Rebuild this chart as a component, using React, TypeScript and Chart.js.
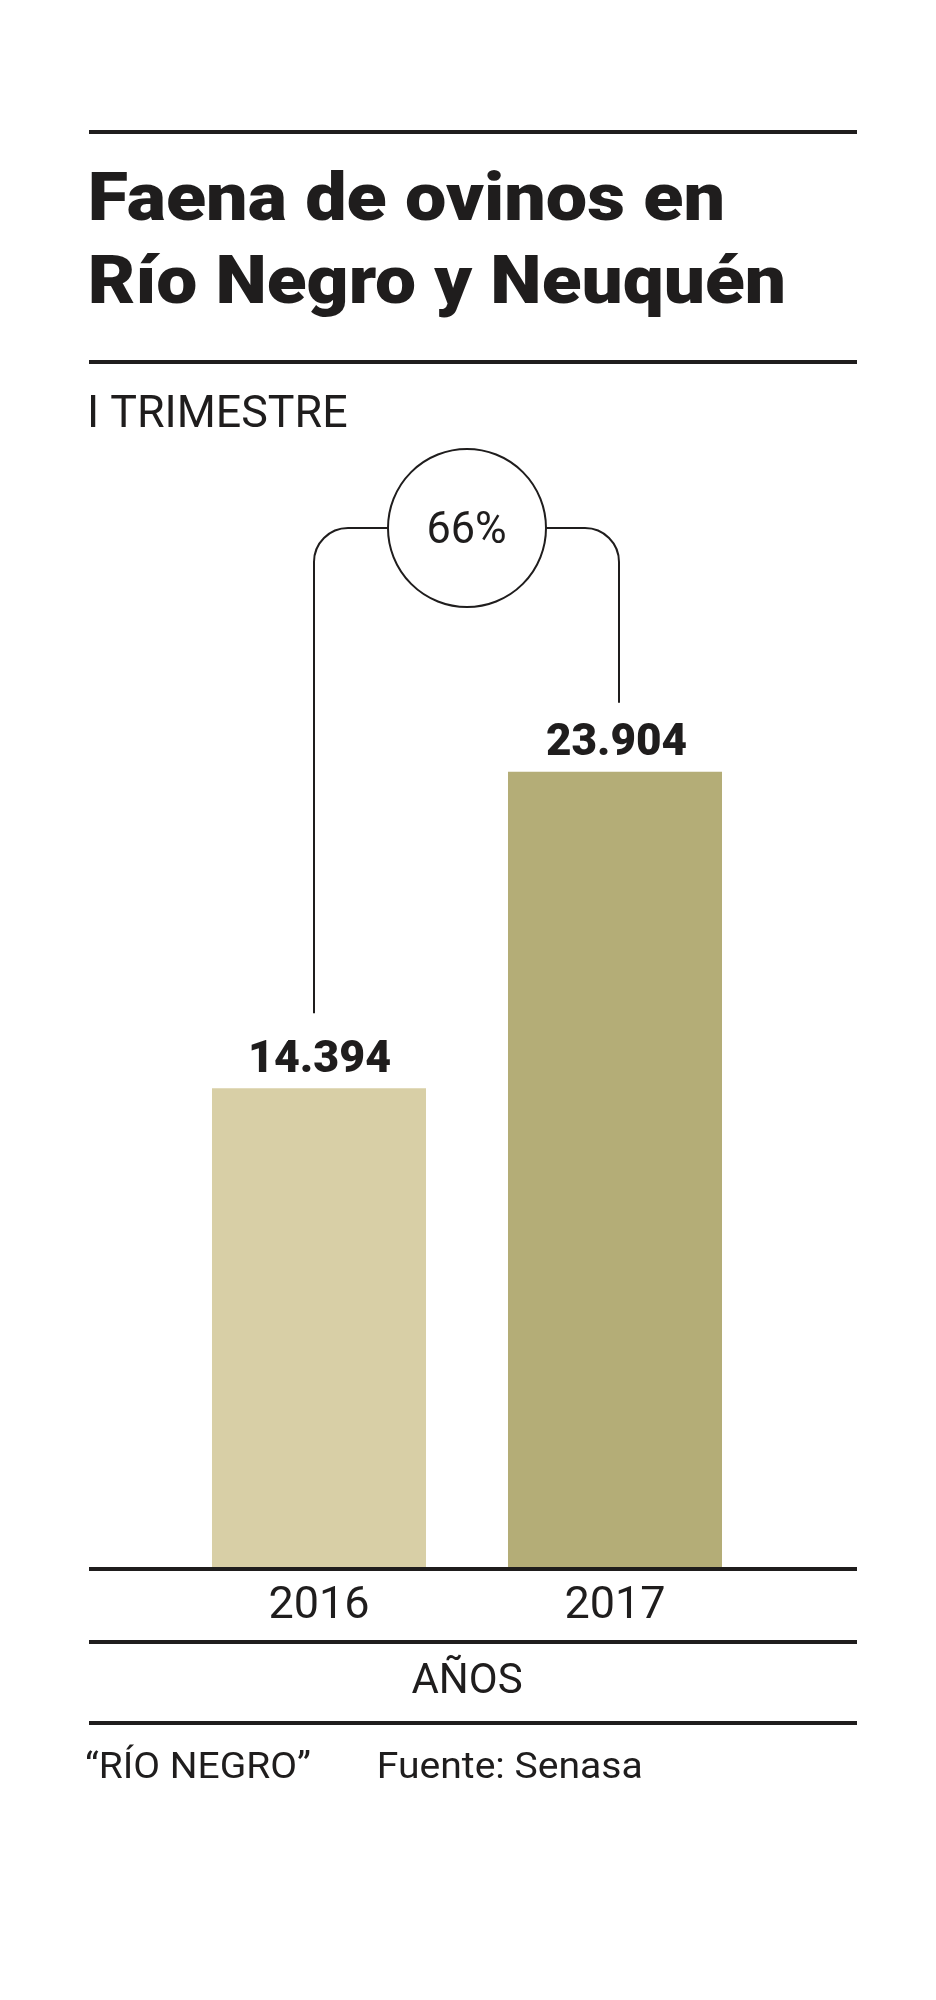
import React, { useEffect, useRef } from "react";
import { Chart, registerables } from "chart.js";

Chart.register(...registerables);

// ---- data ----
const categories = ["2016", "2017"];
const values = [14394, 23904];
const valueLabels = ["14.394", "23.904"];
const barColors = ["#d8cfa6", "#b4ad77"];
const changeLabel = "66%";
const titleLines = ["Faena de ovinos en", "Río Negro y Neuquén"];
const subtitle = "I TRIMESTRE";
const axisTitle = "AÑOS";
const footerLeft = "\u201CRÍO NEGRO\u201D";
const footerRight = "Fuente: Senasa";
const yMax = 30000;

const INK = "#1f1d1d";
const FONT = "Roboto, 'Liberation Sans', Arial, sans-serif";

function drawInk(
  ctx: CanvasRenderingContext2D,
  text: string,
  font: string,
  inkLeft: number,
  baseline: number,
  inkWidth: number
) {
  ctx.save();
  ctx.font = font;
  ctx.textAlign = "left";
  ctx.textBaseline = "alphabetic";
  const m = ctx.measureText(text);
  const w = m.actualBoundingBoxLeft + m.actualBoundingBoxRight;
  const sx = w > 0 ? inkWidth / w : 1;
  ctx.translate(inkLeft, baseline);
  ctx.scale(sx, 1);
  ctx.fillText(text, m.actualBoundingBoxLeft, 0);
  ctx.restore();
}

const decorPlugin = {
  id: "decor",
  beforeDraw(chart: any) {
    const ctx: CanvasRenderingContext2D = chart.ctx;
    ctx.save();
    ctx.fillStyle = "#ffffff";
    ctx.fillRect(0, 0, chart.width, chart.height);
    ctx.fillStyle = INK;
    // horizontal rules
    const x0 = 89;
    const w = 768;
    [130, 360, 1640, 1721].forEach((y) => ctx.fillRect(x0, y, w, 4));
    // baseline rule
    ctx.fillRect(x0, chart.chartArea.bottom, w, 4);
    // title
    drawInk(ctx, titleLines[0], `900 67px ${FONT}`, 91, 220, 631);
    drawInk(ctx, titleLines[1], `900 67px ${FONT}`, 91, 303, 692);
    drawInk(ctx, subtitle, `400 45px ${FONT}`, 91, 427, 256);
    // footer
    drawInk(ctx, footerLeft, `400 36px ${FONT}`, 86, 1778, 224);
    drawInk(ctx, footerRight, `400 36px ${FONT}`, 379, 1778, 262);
    ctx.restore();
  },
  afterDatasetsDraw(chart: any) {
    const ctx: CanvasRenderingContext2D = chart.ctx;
    const meta = chart.getDatasetMeta(0);
    const b0 = meta.data[0];
    const b1 = meta.data[1];
    ctx.save();
    ctx.fillStyle = INK;
    // value labels
    meta.data.forEach((bar: any, i: number) => {
      const base = bar.y - (i === 0 ? 16 : 17);
      drawInk(ctx, valueLabels[i], `900 45px ${FONT}`, bar.x - 68, base, 139);
    });
    // bracket + circle
    const cx = (b0.x + b1.x) / 2;
    const cy = 528;
    const r = 79;
    const lx = b0.x - 5;
    const rx = b1.x + 4;
    const rad = 34;
    ctx.strokeStyle = INK;
    ctx.lineWidth = 2;
    ctx.beginPath();
    ctx.moveTo(lx, b0.y - 75);
    ctx.lineTo(lx, cy + rad);
    ctx.arcTo(lx, cy, lx + rad, cy, rad);
    ctx.lineTo(cx - r, cy);
    ctx.stroke();
    ctx.beginPath();
    ctx.moveTo(cx + r, cy);
    ctx.lineTo(rx - rad, cy);
    ctx.arcTo(rx, cy, rx, cy + rad, rad);
    ctx.lineTo(rx, b1.y - 69);
    ctx.stroke();
    ctx.beginPath();
    ctx.arc(cx, cy, r, 0, Math.PI * 2);
    ctx.stroke();
    drawInk(ctx, changeLabel, `400 44px ${FONT}`, cx - 38.5, 543, 77);
    ctx.restore();
  },
};

export default function App() {
  const ref = useRef<HTMLCanvasElement | null>(null);
  useEffect(() => {
    if (!ref.current) return;
    const chart = new Chart(ref.current, {
      type: "bar",
      data: {
        labels: categories,
        datasets: [
          {
            data: values,
            backgroundColor: barColors,
            borderWidth: 0,
            categoryPercentage: 1,
            barPercentage: 0.723,
          },
        ],
      },
      options: {
        animation: false,
        responsive: false,
        devicePixelRatio: 1,
        layout: { padding: { left: 171, right: 173, top: 569, bottom: 0 } },
        plugins: {
          legend: { display: false },
          tooltip: { enabled: false },
          title: { display: false },
        },
        scales: {
          y: { display: false, min: 0, max: yMax },
          x: {
            display: true,
            grid: { display: false, drawTicks: false },
            border: { display: false },
            ticks: {
              color: INK,
              padding: 13,
              font: { family: FONT, size: 45, weight: "400" },
              maxRotation: 0,
            },
            title: {
              display: true,
              text: axisTitle,
              color: INK,
              font: { family: FONT, size: 42, weight: "400" },
              padding: { top: 0, bottom: 92 },
            },
            afterFit: (scale: any) => {
              scale.height = 233;
            },
          },
        },
      },
      plugins: [decorPlugin],
    } as any);
    return () => chart.destroy();
  }, []);
  return (
    <div
      style={{
        position: "absolute",
        left: 0,
        top: 0,
        width: 936,
        height: 2000,
        background: "#ffffff",
      }}
    >
      <canvas
        ref={ref}
        width={936}
        height={1800}
        style={{ display: "block", width: 936, height: 1800 }}
      />
    </div>
  );
}
